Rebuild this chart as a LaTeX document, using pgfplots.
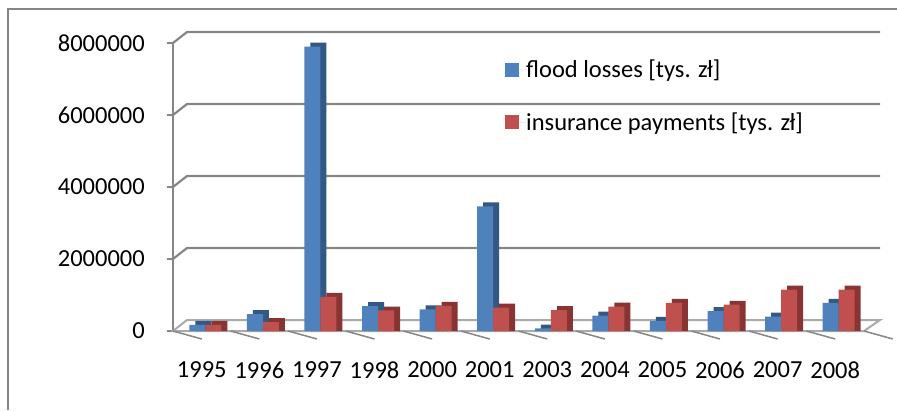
\documentclass[border=0pt]{standalone}
\usepackage{pgfplots}
\usepackage{pgfplotstable}
\pgfplotsset{compat=1.18}
\usepackage{fontspec}
\setmainfont{Carlito}
\definecolor{bfront}{RGB}{79,129,189}
\definecolor{bside}{RGB}{52,88,132}
\definecolor{rfront}{RGB}{192,80,77}
\definecolor{rside}{RGB}{136,52,50}
\definecolor{axgray}{RGB}{134,134,134}
\pgfplotstableread{
x flood insur
0 170000 170000
1 470000 250000
2 7900000 950000
3 690000 570000
4 600000 700000
5 3460000 650000
6 70000 580000
7 430000 680000
8 280000 780000
9 550000 730000
10 400000 1150000
11 780000 1150000
}\data
\begin{document}
\begin{tikzpicture}
\useasboundingbox (-173pt,-79pt) rectangle (724pt,331pt);
\draw[axgray, line width=1.5pt] (-165pt,-79pt) -- (-165pt,322pt) -- (724pt,322pt);
\begin{axis}[
  at={(0,0)}, anchor=south west,
  scale only axis, width=691pt, height=288pt,
  xmin=-0.5, xmax=11.5, ymin=0, ymax=8000000,
  clip=false,
  axis x line*=bottom,
  axis y line*=left,
  x axis line style={draw=none},
  y axis line style={axgray, line width=2.5pt, -},
  scaled y ticks=false,
  ytick={0,2000000,4000000,6000000,8000000},
  yticklabels={0,2000000,4000000,6000000,8000000},
  ytick style={axgray, line width=1.5pt},
  tick align=outside, major tick length=6pt,
  yticklabel style={anchor=east, inner sep=0pt, xshift=-22pt},
  xtick={0,...,11},
  xticklabels={1995,1996,1997,1998,2000,2001,2003,2004,2005,2006,2007,2008},
  xtick style={draw=none},
  xticklabel style={anchor=center, inner sep=0pt, yshift=-33pt},
  ticklabel style={font=\fontsize{24.5}{29}\selectfont},
  ybar, bar width=16pt,
  legend style={draw=none, fill=none, at={(332pt,271pt)}, anchor=north west,
    font=\fontsize{24.5}{29}\selectfont, inner sep=0pt, row sep=33pt,
    nodes={inner sep=0pt}},
  legend cell align=left,
  legend image code/.code={\fill[#1] (0pt,-7pt) rectangle (14pt,7pt); \path (0pt,0pt) -- (21pt,0pt);},
]
% back wall grid lines and floor
\pgfplotsinvokeforeach{2000000,4000000,6000000,8000000}{
  \draw[axgray, line width=2.2pt] (axis cs:-0.5,#1) -- ++(14pt,11pt) -- ([xshift=16pt,yshift=11pt]axis cs:11.5,#1);
}
\draw[axgray!70, line width=2pt] (axis cs:-0.5,0) -- ++(14pt,11pt) -- ([xshift=16pt,yshift=11pt]axis cs:11.5,0) -- (axis cs:11.5,0) -- cycle;
% x ticks at category boundaries
\pgfplotsinvokeforeach{-0.5,0.5,...,11.5}{
  \draw[axgray, line width=1.5pt] (axis cs:#1,0) -- ++(0,-8pt);
}
\addplot[draw=none, fill=bside, bar shift=1.5pt, forget plot] table[x=x, y expr=\thisrow{flood}+110000] {\data};
\addplot[draw=none, fill=bfront, bar shift=-4.5pt] table[x=x, y=flood] {\data};
\addplot[draw=none, fill=rside, bar shift=17.5pt, forget plot] table[x=x, y expr=\thisrow{insur}+110000] {\data};
\addplot[draw=none, fill=rfront, bar shift=11.5pt] table[x=x, y=insur] {\data};
\legend{flood losses [tys. z\kern-1ptł], insurance payments [tys. z\kern-1ptł]}
\end{axis}
\end{tikzpicture}
\end{document}
